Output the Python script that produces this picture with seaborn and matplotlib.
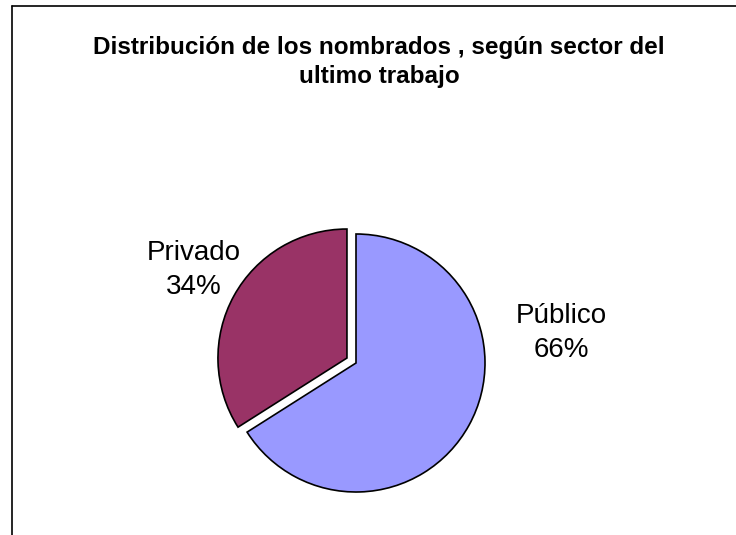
import matplotlib
matplotlib.use("Agg")
import matplotlib.pyplot as plt
import seaborn as sns
from matplotlib.lines import Line2D

# Data
sectores = ["Público", "Privado"]
porcentajes = [66, 34]
colores = ["#9999FF", "#993366"]
explode = [0, 0.08]

sns.set_theme(style="white")
plt.rcParams['font.family'] = ['Liberation Sans', 'DejaVu Sans']
plt.rcParams['text.color'] = 'black'

W, H = 736, 535
fig = plt.figure(figsize=(W / 100, H / 100), dpi=100)
fig.patch.set_facecolor("white")

# Pie axes: centre (356, 363) px, radius 129 px
r = 129
lim = 1.3
cx, cy = 356, H - 363
side = 2 * lim * r
ax = fig.add_axes([(cx - side / 2) / W, (cy - side / 2) / H, side / W, side / H])

ax.pie(porcentajes, colors=colores, explode=explode, startangle=90,
       counterclock=False,
       wedgeprops=dict(edgecolor="black", linewidth=1.2))
ax.set_xlim(-lim, lim)
ax.set_ylim(-lim, lim)
ax.set_aspect("equal")
ax.axis("off")

# Labels
etiquetas = [f"{s}\n{p}%" for s, p in zip(sectores, porcentajes)]
ax.text(1.59, 0.23, etiquetas[0], ha="center", va="center", fontsize=20,
        color="black", linespacing=1.4)
ax.text(-1.26, 0.72, etiquetas[1], ha="center", va="center", fontsize=20,
        color="black", linespacing=1.4)

# Title
fig.text(379 / W, 1 - 62 / H,
         "Distribución de los nombrados , según sector del\nultimo trabajo",
         ha="center", va="center", fontsize=17.5, fontweight="bold",
         color="black", multialignment="center", linespacing=1.3)

# Frame (cropped chart border)
fig.add_artist(Line2D([12 / W, 12 / W], [0, 1 - 6 / H], color="black", linewidth=1.2,
                      transform=fig.transFigure))
fig.add_artist(Line2D([12 / W, 1], [1 - 6 / H, 1 - 6 / H], color="black", linewidth=1.2,
                      transform=fig.transFigure))

fig.savefig("out.png", dpi=100)
